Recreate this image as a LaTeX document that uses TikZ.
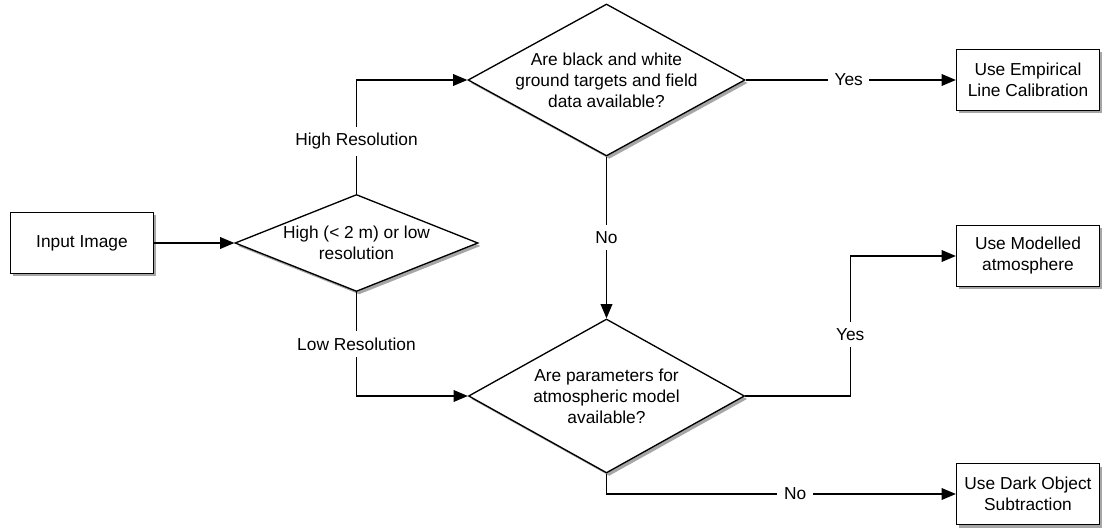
\documentclass[tikz,border=0pt]{standalone}
\usepackage{fontspec}
\setmainfont{Liberation Sans}
\usetikzlibrary{shapes.geometric,arrows.meta,shadows}

\tikzset{
  shade box/.style={drop shadow={shadow xshift=1.6pt,shadow yshift=-1.8pt,opacity=0.35,fill=black}},
  box/.style={draw,fill=white,line width=0.8pt,minimum width=85.8pt,minimum height=36.6pt,
    align=center,inner sep=2pt,shade box},
  decision/.style={diamond,draw,fill=white,line width=0.8pt,align=center,inner sep=-6pt,shade box},
  arr/.style={line width=0.8pt,-{Triangle[length=8.5pt,width=7pt]}},
  lbl/.style={fill=white,inner sep=4pt},
}

\begin{document}
\begin{tikzpicture}[x=0.6pt,y=-0.6pt,every node/.style={font=\fontsize{10.4}{12.6}\selectfont}]
    \useasboundingbox (0,0) rectangle (1110,531);

    % boxes
    \node[box] (input) at (82,243) {Input Image};
    \node[box] (empirical) at (1028,80) {Use Empirical\\Line Calibration};
    \node[box] (modelled) at (1028,256) {Use Modelled\\atmosphere};
    \node[box] (darkobj) at (1028,494) {Use Dark Object\\Subtraction};

    % decisions
    \node[decision,minimum width=145.8pt,minimum height=58.2pt,aspect=2.5] (res) at (356.5,243)
        {High (< 2 m) or low\\resolution};
    \node[decision,minimum width=166.2pt,minimum height=91.2pt,aspect=1.8] (targets) at (606.5,80)
        {Are black and white\\ground targets and field\\data available?};
    \node[decision,minimum width=165.6pt,minimum height=92.4pt,aspect=1.8] (params) at (606.5,396)
        {Are parameters for\\atmospheric model\\available?};

    % connectors
    \draw[arr] (input) -- (res);
    \draw[arr] (res.north) |- (targets.west) node[lbl,pos=0.23] {High Resolution};
    \draw[arr] (res.south) |- (params.west) node[lbl,pos=0.25] {Low Resolution};
    \draw[arr] (targets.east) -- (empirical.west) node[lbl,pos=0.49] {Yes};
    \draw[arr] (targets.south) -- (params.north) node[lbl,midway] {No};
    \draw[arr] (params.east) -- ++(105,0) |- (modelled.west) node[lbl,pos=0.22] {Yes};
    \draw[arr] (params.south) |- (darkobj.west) node[lbl,pos=0.77] {No};
\end{tikzpicture}
\end{document}
